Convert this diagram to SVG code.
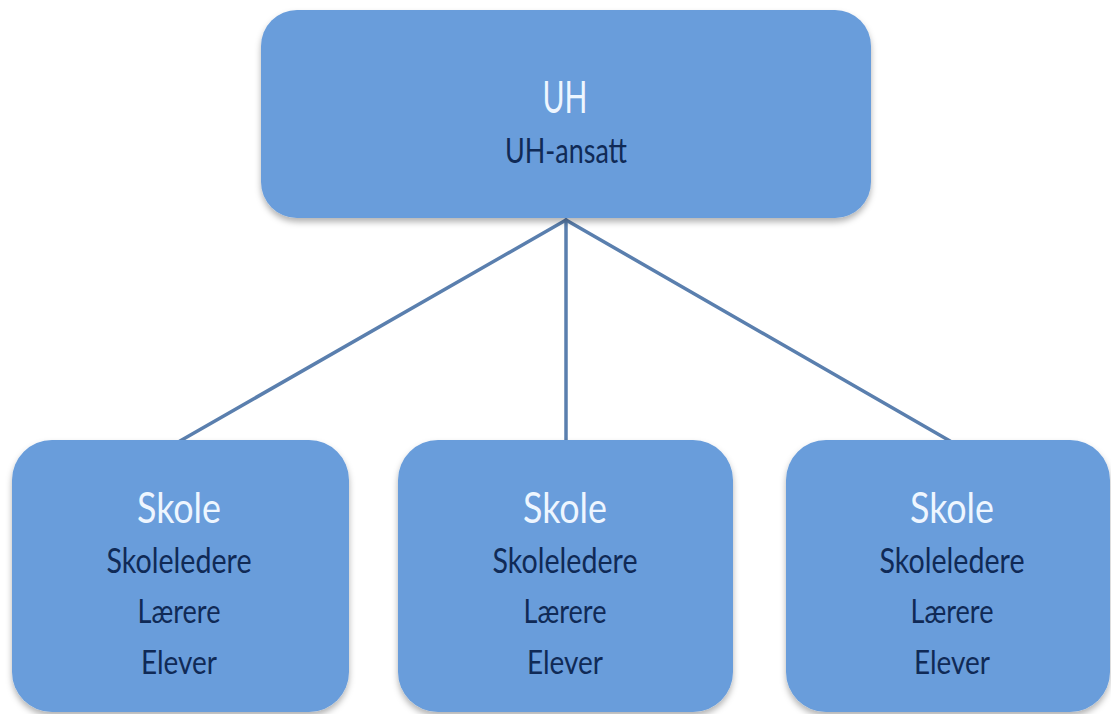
<svg xmlns="http://www.w3.org/2000/svg" width="1111" height="714" viewBox="0 0 1111 714">
<style>
.box{fill:#699ddb;filter:url(#sh)}
.t1{font-family:Lato,"Open Sans","Liberation Sans",sans-serif;fill:#eef6ff;text-anchor:middle}
.t2{font-family:Lato,"Open Sans","Liberation Sans",sans-serif;fill:#102a56;text-anchor:middle}
.con{stroke:#5a7fae;stroke-width:3.5;fill:none;stroke-linecap:round}
</style>
<defs>
<filter id="sh" x="-10%" y="-10%" width="120%" height="130%">
<feDropShadow dx="0" dy="4" stdDeviation="3" flood-color="#000" flood-opacity="0.3"/>
</filter>
</defs>
<rect width="1111" height="714" fill="#fff"/>
<g id="connectors">
<line class="con" x1="566" y1="220" x2="180" y2="441"/>
<line class="con" x1="566" y1="220" x2="566" y2="441"/>
<line class="con" x1="566" y1="220" x2="950" y2="441"/>
</g>
<g id="uh">
<rect class="box" x="261" y="10" width="610" height="208" rx="36"/>
<text class="t1" x="565" y="113" font-size="45" textLength="45" lengthAdjust="spacingAndGlyphs">UH</text>
<text class="t2" x="566" y="163" font-size="35" textLength="122" lengthAdjust="spacingAndGlyphs">UH-ansatt</text>
</g>
<g id="skole1">
<rect class="box" x="12" y="440" width="337" height="272" rx="40"/>
<text class="t1" x="179" y="523" font-size="43" textLength="84" lengthAdjust="spacingAndGlyphs">Skole</text>
<text class="t2" x="179" y="573" font-size="35" textLength="145" lengthAdjust="spacingAndGlyphs">Skoleledere</text>
<text class="t2" x="179" y="623" font-size="33" textLength="83" lengthAdjust="spacingAndGlyphs">Lærere</text>
<text class="t2" x="179" y="674" font-size="33" textLength="76" lengthAdjust="spacingAndGlyphs">Elever</text>
</g>
<g id="skole2">
<rect class="box" x="398" y="440" width="335" height="272" rx="40"/>
<text class="t1" x="565" y="523" font-size="43" textLength="84" lengthAdjust="spacingAndGlyphs">Skole</text>
<text class="t2" x="565" y="573" font-size="35" textLength="145" lengthAdjust="spacingAndGlyphs">Skoleledere</text>
<text class="t2" x="565" y="623" font-size="33" textLength="83" lengthAdjust="spacingAndGlyphs">Lærere</text>
<text class="t2" x="565" y="674" font-size="33" textLength="76" lengthAdjust="spacingAndGlyphs">Elever</text>
</g>
<g id="skole3">
<rect class="box" x="786" y="440" width="324" height="272" rx="40"/>
<text class="t1" x="952" y="523" font-size="43" textLength="84" lengthAdjust="spacingAndGlyphs">Skole</text>
<text class="t2" x="952" y="573" font-size="35" textLength="145" lengthAdjust="spacingAndGlyphs">Skoleledere</text>
<text class="t2" x="952" y="623" font-size="33" textLength="83" lengthAdjust="spacingAndGlyphs">Lærere</text>
<text class="t2" x="952" y="674" font-size="33" textLength="76" lengthAdjust="spacingAndGlyphs">Elever</text>
</g>
</svg>
